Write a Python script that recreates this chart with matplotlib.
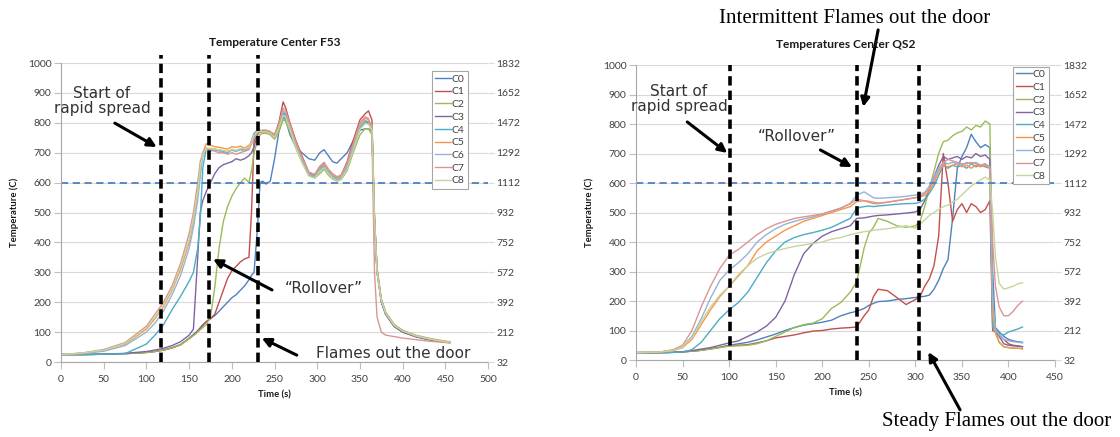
import numpy as np
import matplotlib.pyplot as plt

plt.rcParams.update({
    'font.family': ['Lato', 'DejaVu Sans'],
    'font.size': 7,
    'axes.linewidth': 0.8,
})

# ---------------- data: Temperature Center F53 (left) ----------------
f53_time = [0, 25, 50, 75, 100, 110, 120, 130, 140, 150, 155, 160, 163, 166, 170,
            175, 180, 185, 190, 195, 200, 205, 210, 215, 220, 223, 226, 230, 233, 236,
            240, 245, 250, 255, 260, 263, 268, 275, 282, 290, 297, 303, 308, 313, 318,
            323, 328, 335, 342, 350, 356, 360, 364, 367, 370, 375, 380, 390, 400, 415,
            430, 445, 455]
f53_c0 = [25, 25, 26, 28, 32, 36, 40, 48, 58, 80, 92, 105, 115, 125, 135,
          145, 155, 170, 185, 200, 215, 225, 240, 255, 275, 290, 300, 450, 600, 605,
          595, 605, 680, 770, 820, 810, 760, 720, 700, 680, 675, 700, 710, 690, 670,
          665, 680, 700, 740, 775, 780, 780, 770, 460, 300, 210, 165, 125, 105, 88,
          78, 70, 67]
f53_c1 = [25, 25, 26, 28, 32, 35, 40, 47, 58, 78, 90, 102, 112, 122, 135,
          145, 160, 200, 240, 280, 305, 320, 335, 345, 350, 500, 740, 765, 770, 775,
          775, 770, 760, 800, 870, 850, 800, 740, 690, 635, 625, 650, 665, 640, 625,
          615, 625, 670, 740, 810, 830, 840, 810, 480, 310, 200, 160, 118, 100, 85,
          75, 68, 65]
f53_c2 = [25, 25, 26, 28, 32, 35, 40, 47, 58, 78, 88, 100, 108, 115, 125,
          150, 250, 380, 470, 520, 555, 580, 600, 615, 600, 640, 700, 740, 760, 765,
          765, 760, 745, 770, 810, 805, 770, 715, 670, 625, 615, 630, 645, 625, 612,
          605, 610, 640, 700, 760, 780, 780, 760, 480, 310, 205, 165, 120, 102, 86,
          76, 69, 66]
f53_c3 = [25, 25, 26, 29, 35, 40, 46, 55, 68, 90, 110, 350, 500, 540, 570,
          600, 630, 650, 660, 665, 670, 680, 675, 680, 690, 700, 720, 760, 770, 770,
          770, 765, 750, 785, 835, 825, 785, 725, 675, 630, 622, 645, 655, 635, 622,
          612, 618, 655, 715, 785, 805, 800, 785, 470, 300, 200, 160, 120, 100, 85,
          75, 68, 65]
f53_c4 = [25, 25, 26, 28, 60, 90, 125, 175, 220, 270, 300, 380, 480, 650, 715,
          705, 712, 708, 705, 700, 710, 705, 712, 710, 715, 740, 765, 775, 775, 772,
          770, 768, 752, 788, 830, 825, 782, 722, 672, 625, 618, 640, 652, 632, 618,
          608, 615, 650, 712, 782, 800, 798, 780, 470, 305, 205, 162, 122, 103, 87,
          77, 70, 66]
f53_c5 = [25, 30, 40, 60, 110, 145, 185, 240, 310, 400, 470, 560, 640, 700, 730,
          725, 720, 718, 715, 712, 720, 718, 722, 715, 725, 735, 750, 765, 770, 770,
          775, 770, 758, 795, 840, 832, 792, 732, 682, 632, 626, 652, 662, 640, 626,
          616, 622, 662, 725, 795, 815, 810, 792, 490, 315, 210, 168, 125, 106, 90,
          80, 72, 68]
f53_c6 = [25, 28, 36, 55, 100, 130, 170, 225, 290, 380, 450, 540, 620, 690, 715,
          710, 708, 706, 700, 705, 708, 705, 710, 705, 715, 730, 752, 770, 772, 770,
          772, 766, 754, 790, 838, 830, 788, 728, 678, 628, 620, 645, 658, 636, 622,
          612, 618, 656, 718, 788, 808, 804, 786, 475, 305, 205, 165, 122, 104, 88,
          78, 70, 66]
f53_c7 = [25, 30, 42, 65, 120, 160, 200, 255, 330, 430, 500, 600, 670, 700, 715,
          710, 705, 700, 700, 695, 700, 695, 700, 705, 710, 730, 755, 770, 775, 772,
          772, 768, 756, 792, 850, 840, 795, 735, 685, 635, 628, 655, 668, 645, 630,
          620, 625, 665, 730, 800, 820, 815, 760, 300, 150, 100, 90, 85, 80, 75,
          70, 66, 64]
f53_c8 = [25, 30, 40, 62, 115, 150, 190, 245, 320, 410, 480, 570, 650, 695, 715,
          715, 712, 710, 708, 704, 712, 708, 715, 712, 718, 735, 758, 772, 772, 770,
          770, 764, 750, 782, 825, 818, 778, 718, 668, 622, 615, 638, 650, 630, 615,
          606, 612, 645, 708, 778, 798, 795, 778, 470, 300, 205, 165, 123, 104, 88,
          78, 70, 66]

# ---------------- data: Temperatures Center QS2 (right) ----------------
qs2_time = [0, 25, 40, 50, 60, 70, 80, 90, 100, 110, 120, 130, 140, 150, 160,
            170, 180, 190, 200, 210, 220, 230, 237, 245, 250, 255, 260, 270, 280, 290,
            300, 305, 310, 315, 320, 325, 330, 335, 340, 345, 350, 355, 360, 365, 370,
            375, 380, 383, 386, 390, 395, 400, 405, 410, 415]
qs2_c0 = [25, 25, 26, 27, 30, 33, 38, 43, 50, 55, 60, 68, 78, 88, 100,
          110, 118, 123, 128, 135, 150, 160, 165, 175, 185, 192, 198, 200, 205, 208,
          212, 214, 216, 220, 240, 270, 310, 340, 480, 650, 690, 720, 765, 740, 720,
          730, 720, 300, 110, 95, 80, 70, 65, 62, 60]
qs2_c1 = [25, 25, 26, 28, 30, 33, 38, 43, 48, 50, 52, 58, 65, 75, 80,
          85, 92, 98, 100, 105, 108, 110, 112, 150, 170, 215, 240, 235, 212, 188,
          205, 215, 250, 275, 320, 420, 700, 600, 470, 510, 530, 500, 530, 520, 500,
          510, 540, 100, 95, 85, 70, 55, 50, 48, 45]
qs2_c2 = [25, 25, 26, 27, 30, 33, 37, 42, 47, 48, 50, 55, 65, 80, 95,
          110, 120, 125, 140, 175, 195, 230, 265, 380, 430, 450, 480, 470, 455, 450,
          455, 470, 520, 580, 640, 700, 740, 745, 760, 770, 775, 790, 780, 795, 790,
          810, 800, 200, 100, 60, 45, 42, 40, 40, 38]
qs2_c3 = [25, 25, 26, 28, 32, 37, 42, 50, 58, 65, 80, 95, 115, 145, 200,
          290, 360, 395, 420, 435, 445, 455, 480, 482, 485, 488, 490, 492, 495, 498,
          502, 510, 540, 580, 620, 660, 690, 680, 685, 690, 680, 690, 685, 700, 690,
          695, 680, 120, 100, 80, 55, 50, 48, 47, 45]
qs2_c4 = [25, 25, 26, 27, 35, 60, 100, 140, 170, 195, 230, 280, 330, 370, 400,
          415, 425, 432, 440, 450, 465, 480, 515, 520, 522, 520, 522, 525, 528, 530,
          531, 535, 545, 565, 590, 625, 660, 650, 660, 655, 660, 650, 665, 655, 660,
          655, 650, 110, 100, 90, 85, 95, 100, 105, 112]
qs2_c5 = [25, 27, 32, 42, 70, 120, 170, 215, 250, 285, 320, 370, 400, 420, 440,
          455, 470, 480, 490, 500, 510, 520, 537, 540, 538, 535, 532, 535, 540, 545,
          550, 553, 558, 572, 600, 640, 660, 655, 660, 665, 655, 660, 650, 660, 655,
          660, 650, 150, 90, 60, 45, 42, 40, 40, 38]
qs2_c6 = [25, 27, 33, 45, 80, 140, 210, 270, 305, 330, 360, 400, 425, 445, 460,
          470, 478, 485, 495, 505, 515, 530, 559, 570, 560, 550, 548, 550, 552, 555,
          559, 562, 568, 590, 620, 650, 670, 665, 670, 665, 660, 670, 665, 670, 660,
          665, 655, 200, 100, 85, 70, 65, 62, 60, 58]
qs2_c7 = [25, 27, 35, 50, 100, 180, 250, 310, 355, 375, 400, 425, 445, 460, 470,
          480, 485, 490, 495, 505, 515, 530, 545, 540, 535, 530, 530, 535, 540, 545,
          550, 555, 565, 580, 610, 640, 670, 680, 675, 670, 665, 665, 670, 665, 660,
          665, 650, 400, 250, 180, 150, 150, 165, 185, 200]
qs2_c8 = [25, 27, 32, 45, 75, 130, 180, 220, 250, 290, 320, 345, 360, 370, 378,
          385, 390, 395, 400, 410, 415, 425, 430, 435, 437, 440, 442, 445, 450, 455,
          447, 460, 475, 490, 500, 510, 520, 525, 535, 545, 560, 575, 590, 600, 610,
          620, 610, 500, 350, 260, 240, 245, 250, 258, 262]

labels = ['C0', 'C1', 'C2', 'C3', 'C4', 'C5', 'C6', 'C7', 'C8']
colors = ['#4F81BD', '#C0504D', '#9BBB59', '#8064A2', '#4BACC6',
          '#F79646', '#95B3D7', '#D99694', '#C3D69B']
f53_series = [f53_c0, f53_c1, f53_c2, f53_c3, f53_c4, f53_c5, f53_c6, f53_c7, f53_c8]
qs2_series = [qs2_c0, qs2_c1, qs2_c2, qs2_c3, qs2_c4, qs2_c5, qs2_c6, qs2_c7, qs2_c8]

f53_events = [117, 173, 231]
qs2_events = [101, 237, 304]
f_ticks = [32, 212, 392, 572, 752, 932, 1112, 1292, 1472, 1652, 1832]

TXT = '#404040'
SERIF = ['Liberation Serif', 'DejaVu Serif']


def panel(ax, time, series, events, title, xmax, line_top, leg_anchor, tpad):
    for vals, lab, col in zip(series, labels, colors):
        ax.plot(time, vals, color=col, lw=1.0, label=lab)
    ax.axhline(600, color='#4F81BD', lw=1.3, ls=(0, (4, 2.5)))
    for ev in events:
        ax.axvline(ev, ymin=0, ymax=line_top, color='black', lw=2.6,
                   ls=(0, (2.6, 1.4)), clip_on=False, zorder=5)
    ax.set_xlim(0, xmax)
    ax.set_ylim(0, 1000)
    ax.set_xticks(np.arange(0, xmax + 1, 50))
    ax.set_yticks(np.arange(0, 1001, 100))
    ax.grid(axis='y', color='#D9D9D9', lw=0.8)
    ax.set_axisbelow(True)
    for s in ['top', 'right']:
        ax.spines[s].set_visible(False)
    for s in ['left', 'bottom']:
        ax.spines[s].set_color('#A6A6A6')
    ax.tick_params(colors=TXT, labelsize=7.5, length=5, color='#BFBFBF', pad=2)
    ax.tick_params(axis='x', pad=4)
    ax.set_title(title, fontsize=8.6, fontweight='bold', color='#1a1a1a', pad=tpad)
    ax.set_xlabel('Time (s)', fontsize=6.8, fontweight='bold', color='#1a1a1a', labelpad=5)
    ax.set_ylabel('Temperature (C)', fontsize=6.8, fontweight='bold', color='#1a1a1a', labelpad=6)
    leg = ax.legend(loc='upper right', bbox_to_anchor=leg_anchor, fontsize=7.5,
                    handlelength=1.5, handletextpad=0.1, labelspacing=0.33,
                    borderpad=0.3, fancybox=False, framealpha=1,
                    edgecolor='#A6A6A6')
    leg.get_frame().set_linewidth(0.8)
    for t in leg.get_texts():
        t.set_color(TXT)
    ax2 = ax.twinx()
    ax2.set_ylim(32, 1832)
    ax2.set_yticks(f_ticks)
    for s in ['top', 'right', 'left', 'bottom']:
        ax2.spines[s].set_visible(False)
    ax2.tick_params(colors=TXT, labelsize=7.5, length=4, color='#D9D9D9', pad=2)
    return ax2


fig = plt.figure(figsize=(11.2, 4.37), dpi=100)
ax_l = fig.add_axes([0.0545, 0.1716, 0.3813, 0.6842])
ax_r = fig.add_axes([0.5679, 0.1762, 0.3741, 0.675])

panel(ax_l, f53_time, f53_series, f53_events, 'Temperature Center F53', 500, 1.027, (0.965, 0.99), 12)
panel(ax_r, qs2_time, qs2_series, qs2_events, 'Temperatures Center QS2', 450, 1.0, (0.997, 1.012), 12)

arrow = dict(arrowstyle='-|>', color='black', lw=2.2, mutation_scale=13,
             shrinkA=0, shrinkB=0)
big = dict(fontsize=11, family=['DejaVu Sans'], color='#333333', ha='center',
           va='center', linespacing=1.0)

# left panel annotations
ax_l.text(48, 872, 'Start of\nrapid spread', **big)
ax_l.annotate('', xy=(112, 719), xytext=(63, 799), arrowprops=arrow)
ax_l.text(307, 247, '\u201cRollover\u201d', **big)
ax_l.annotate('', xy=(178, 344), xytext=(247, 241), arrowprops=arrow)
ax_l.text(389, 30, 'Flames out the door', **big)
ax_l.annotate('', xy=(235, 80), xytext=(276, 23), arrowprops=arrow, annotation_clip=False)

# right panel annotations
ax_r.text(46, 884, 'Start of\nrapid spread', **big)
ax_r.annotate('', xy=(98, 702), xytext=(55, 807), arrowprops=arrow)
ax_r.text(173, 756, '\u201cRollover\u201d', **big)
ax_r.annotate('', xy=(232, 654), xytext=(198, 712), arrowprops=arrow)
ax_r.text(235, 1159, 'Intermittent Flames out the door', fontsize=15, family=SERIF,
          color='black', ha='center', va='center', clip_on=False)
ax_r.annotate('', xy=(244, 858), xytext=(260, 1119), arrowprops=arrow, annotation_clip=False)
ax_r.text(387, -210, 'Steady Flames out the door', fontsize=15, family=SERIF,
          color='black', ha='center', va='center', clip_on=False)
ax_r.annotate('', xy=(314, 27), xytext=(348, -169), arrowprops=arrow, annotation_clip=False)

fig.savefig('out.png', dpi=100)
